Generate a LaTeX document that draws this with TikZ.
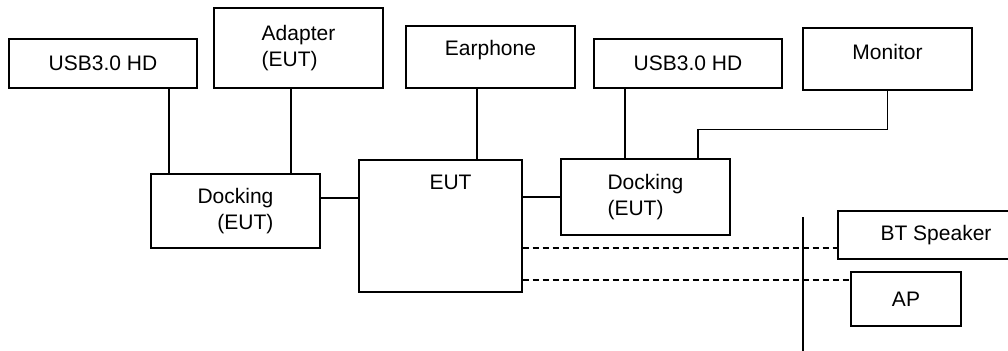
\documentclass[tikz,border=0pt]{standalone}
\usepackage{fontspec}
\setmainfont{Liberation Sans}
\usepackage{tikz}
\tikzset{box/.style={draw,rectangle,semithick,inner sep=2pt}}

\begin{document}
\begin{tikzpicture}[x=0.5pt,y=-0.5pt,semithick,font=\fontsize{10.5}{12.6}\selectfont]
\clip (0,0) rectangle (1008,350);

\node [box,minimum width=94pt,minimum height=24.5pt] (usbl) at(103,63.5){USB3.0 HD};
\node [box,align=left,minimum width=84.5pt,minimum height=40pt] (adp) at(298.5,48){Adapter\\(EUT)};
\node [box,minimum width=84.5pt,minimum height=31pt,text depth=9.5pt] (ear) at(490.5,57){Earphone};
\node [box,minimum width=94pt,minimum height=24.5pt] (usbr) at(688,63.5){USB3.0 HD};
\node [box,minimum width=84.5pt,minimum height=31pt,text depth=7pt] (mon) at(887.5,59){Monitor};

\node [box,align=right,minimum width=84.5pt,minimum height=37pt] (dockl) at(235.5,211){Docking\\(EUT)};
\node [box,minimum width=81.5pt,minimum height=66pt,label={[anchor=north,xshift=5pt,yshift=-4pt]north:EUT}] (eut) at(440.5,226){};
\node [box,align=left,minimum width=84.5pt,minimum height=38pt] (dockr) at(645.5,197){Docking\\(EUT)};

%wireless side
\node [box,minimum width=98pt,minimum height=24pt] (bt) at(936,235){BT Speaker};
\node [box,minimum width=55pt,minimum height=27pt] (ap) at(906,299){AP};

\coordinate (a1) at ([xshift=33pt]usbl.south);
\draw (a1) -- (a1 |- dockl.north);
\coordinate (a2) at ([xshift=-3.75pt]adp.south);
\draw (a2) -- (a2 |- dockl.north);
\coordinate (a3) at ([yshift=6.5pt]dockl.east);
\draw (a3) -- (a3 -| eut.west);
\coordinate (a4) at ([xshift=-6.75pt]ear.south);
\draw (a4) -- (a4 |- eut.north);
\draw (dockr.west -| eut.east) -- (dockr.west);
\coordinate (a5) at ([xshift=-31.5pt]usbr.south);
\draw (a5) -- (a5 |- dockr.north);
\coordinate (a6) at ([xshift=26.25pt]dockr.north);
\draw (a6) -- ++(0,-29) -| (mon.south);

\coordinate (b1) at ([yshift=-6.5pt]bt.west);
\draw [dash pattern=on 3pt off 2pt] (b1 -| eut.east) -- (b1);
\coordinate (b2) at ([yshift=9.5pt]ap.west);
\draw [dash pattern=on 3pt off 2pt] (b2 -| eut.east) -- (b2);

\coordinate (w1) at (803,217);
\coordinate (w2) at (803,352);
\draw (w1) -- (w2);
\end{tikzpicture}
\end{document}
